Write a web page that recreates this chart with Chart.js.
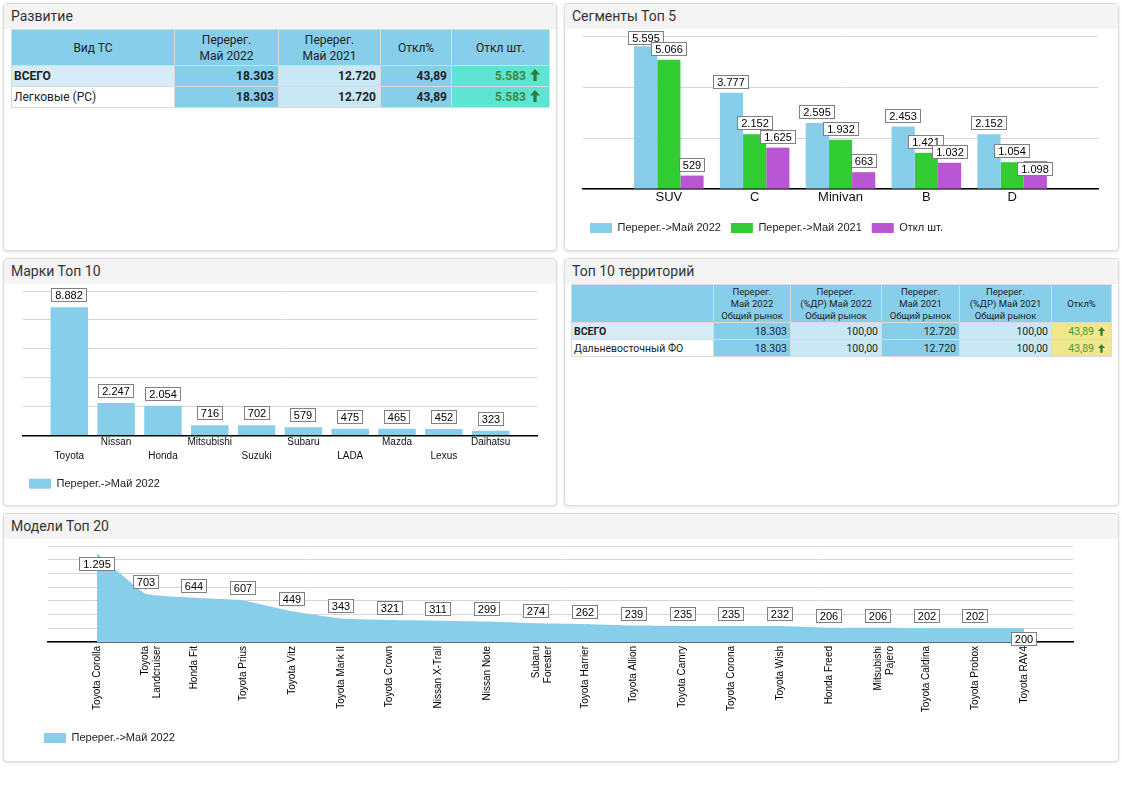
<!DOCTYPE html>
<html lang="ru">
<head>
<meta charset="utf-8">
<title>Dashboard</title>
<script src="https://cdn.jsdelivr.net/npm/chart.js@4.4.1/dist/chart.umd.min.js"></script>
<style>
  html,body{margin:0;padding:0;background:#fff;width:1122px;height:793px;overflow:hidden;}
  body{position:relative;font-family:Roboto,"Liberation Sans",Arial,sans-serif;color:#222;}
  .panel{position:absolute;box-sizing:border-box;border:1px solid #dcdcdc;border-radius:4px;background:#fff;box-shadow:0 1px 3px rgba(0,0,0,0.12);}
  .hdr{height:25px;background:#f4f4f4;border-radius:3px 3px 0 0;font:14px Roboto,sans-serif;color:#333;line-height:25px;padding-left:7px;}
  .abs{position:absolute;}
  table{border-collapse:collapse;table-layout:fixed;position:absolute;}
  td,th{border:1px solid #dadada;overflow:hidden;white-space:nowrap;}
  #t1 td,#t1 th{font-size:12px;}
  #t1 th{background:#87ceeb;font-weight:normal;color:#222;line-height:16px;height:35px;padding:0;}
  #t1 td{height:20px;padding:0 4px;text-align:right;font-weight:bold;color:#222;}
  #t2 th{background:#87ceeb;font-weight:normal;color:#222;font-size:9.5px;line-height:12px;height:37px;padding:0;}
  #t2 td{height:16px;padding:0 3px;text-align:right;font-size:10.5px;color:#222;}
  #t1 td.lbl,#t2 td.lbl{text-align:left;padding-left:2px;font-weight:normal;}
  #t1 td.lbl.b,#t2 td.lbl.b{font-weight:bold;}
  .c-sky{background:#87ceeb;}
  .c-light{background:#c9e8f5;}
  .c-lbl{background:#d6edf7;}
  .c-white{background:#fff;}
  #t1 td.c-turq{background:#5fe3d3;color:#3d8b3d;}
  #t2 td.c-khaki{background:#f0e68c;color:#4a9a3a;}
  svg.arr{vertical-align:-1px;margin-left:4px;}
</style>
</head>
<body>
<div class="panel" style="left:3px;top:3px;width:554px;height:248px"><div class="hdr">Развитие</div></div>
<div class="panel" style="left:564px;top:3px;width:555px;height:248px"><div class="hdr">Сегменты Топ 5</div></div>
<div class="panel" style="left:3px;top:258px;width:554px;height:248px"><div class="hdr">Марки Топ 10</div></div>
<div class="panel" style="left:564px;top:258px;width:555px;height:248px"><div class="hdr">Топ 10 территорий</div></div>
<div class="panel" style="left:3px;top:513px;width:1116px;height:249px"><div class="hdr">Модели Топ 20</div></div>

<table id="t1" style="left:11px;top:29px;width:538px"></table>
<table id="t2" style="left:571px;top:284px;width:540px"></table>

<div class="abs" style="left:565px;top:29px;width:553px;height:221px"><canvas id="cSeg" width="553" height="221"></canvas></div>
<div class="abs" style="left:4px;top:284px;width:553px;height:221px"><canvas id="cBrand" width="553" height="221"></canvas></div>
<div class="abs" style="left:4px;top:539px;width:1114px;height:222px"><canvas id="cModel" width="1114" height="222"></canvas></div>

<script>
// ---------------- DATA ----------------
// Развитие
const devHeaders = ['Вид ТС', 'Перерег.\nМай 2022', 'Перерег.\nМай 2021', 'Откл%', 'Откл шт.'];
const devRows = ['ВСЕГО', 'Легковые (PC)'];
const devMay2022 = [18303, 18303];
const devMay2021 = [12720, 12720];
const devPct = [43.89, 43.89];
const devDiff = [5583, 5583];

// Сегменты Топ 5
const segCategories = ['SUV', 'C', 'Minivan', 'B', 'D'];
const segMay2022 = [5595, 3777, 2595, 2453, 2152];
const segMay2021 = [5066, 2152, 1932, 1421, 1054];
const segDiff = [529, 1625, 663, 1032, 1098];
const segSeriesNames = ['Перерег.->Май 2022', 'Перерег.->Май 2021', 'Откл шт.'];

// Марки Топ 10
const brandCategories = ['Toyota', 'Nissan', 'Honda', 'Mitsubishi', 'Suzuki', 'Subaru', 'LADA', 'Mazda', 'Lexus', 'Daihatsu'];
const brandMay2022 = [8882, 2247, 2054, 716, 702, 579, 475, 465, 452, 323];

// Топ 10 территорий
const terHeaders = ['', 'Перерег.\nМай 2022\nОбщий рынок', 'Перерег.\n(%ДР) Май 2022\nОбщий рынок', 'Перерег.\nМай 2021\nОбщий рынок', 'Перерег.\n(%ДР) Май 2021\nОбщий рынок', 'Откл%'];
const terRows = ['ВСЕГО', 'Дальневосточный ФО'];
const terMay2022 = [18303, 18303];
const terShare2022 = [100, 100];
const terMay2021 = [12720, 12720];
const terShare2021 = [100, 100];
const terPct = [43.89, 43.89];

// Модели Топ 20
const modelCategories = ['Toyota Corolla', 'Toyota\nLandcruiser', 'Honda Fit', 'Toyota Prius', 'Toyota Vitz', 'Toyota Mark II', 'Toyota Crown', 'Nissan X-Trail', 'Nissan Note', 'Subaru\nForester', 'Toyota Harrier', 'Toyota Allion', 'Toyota Camry', 'Toyota Corona', 'Toyota Wish', 'Honda Freed', 'Mitsubishi\nPajero', 'Toyota Caldina', 'Toyota Probox', 'Toyota RAV4'];
const modelMay2022 = [1295, 703, 644, 607, 449, 343, 321, 311, 299, 274, 262, 239, 235, 235, 232, 206, 206, 202, 202, 200];

// ---------------- HELPERS ----------------
const fmtInt = v => String(v).replace(/\B(?=(\d{3})+(?!\d))/g, '.');
const fmtDec = v => v.toFixed(2).replace('.', ',');
const SKY = '#87ceeb', GREEN = '#32cd32', PURPLE = '#ba55d3';
function arrow(w, h) {
  return `<svg class="arr" width="${w}" height="${h}" viewBox="0 0 9 11"><polygon points="4.5,0 9,5 6,5 6,11 3,11 3,5 0,5" fill="#2f7d32"/></svg>`;
}
const esc = s => s.replace(/\n/g, '<br>');

// ---------------- TABLE 1 ----------------
(function () {
  const t = document.getElementById('t1');
  const widths = [163, 104, 102, 71, 98];
  let h = '<colgroup>' + widths.map(w => `<col style="width:${w}px">`).join('') + '</colgroup>';
  h += '<tr>' + devHeaders.map(x => `<th>${esc(x)}</th>`).join('') + '</tr>';
  devRows.forEach((r, i) => {
    h += '<tr>' +
      `<td class="lbl ${i === 0 ? 'b c-lbl' : 'c-white'}">${r}</td>` +
      `<td class="c-sky">${fmtInt(devMay2022[i])}</td>` +
      `<td class="c-light">${fmtInt(devMay2021[i])}</td>` +
      `<td class="c-sky">${fmtDec(devPct[i])}</td>` +
      `<td class="c-turq" style="padding-right:9px">${fmtInt(devDiff[i])}${arrow(10, 12)}</td>` +
      '</tr>';
  });
  t.innerHTML = h;
})();

// ---------------- TABLE 2 ----------------
(function () {
  const t = document.getElementById('t2');
  const widths = [142, 77, 91, 78, 92, 60];
  let h = '<colgroup>' + widths.map(w => `<col style="width:${w}px">`).join('') + '</colgroup>';
  h += '<tr>' + terHeaders.map(x => `<th>${esc(x)}</th>`).join('') + '</tr>';
  terRows.forEach((r, i) => {
    h += '<tr>' +
      `<td class="lbl ${i === 0 ? 'b c-lbl' : 'c-white'}">${r}</td>` +
      `<td class="c-sky">${fmtInt(terMay2022[i])}</td>` +
      `<td class="c-light">${fmtDec(terShare2022[i])}</td>` +
      `<td class="c-sky">${fmtInt(terMay2021[i])}</td>` +
      `<td class="c-light">${fmtDec(terShare2021[i])}</td>` +
      `<td class="c-khaki" style="padding-right:6px">${fmtDec(terPct[i])}${arrow(7, 9)}</td>` +
      '</tr>';
  });
  t.innerHTML = h;
})();

// ---------------- CHART PLUGIN: boxed value labels ----------------
const boxLabels = {
  id: 'boxLabels',
  afterDatasetsDraw(chart, args, opts) {
    if (!opts || !opts.enabled) return;
    const ctx = chart.ctx;
    ctx.save();
    ctx.font = opts.font || '11px "Liberation Sans", Arial';
    ctx.textAlign = 'center';
    ctx.textBaseline = 'middle';
    const h = opts.boxHeight || 14, padX = opts.padX || 4, gap = opts.gap || 4, below = opts.below || 3;
    const placed = [];
    const nDs = chart.data.datasets.length;
    const count = chart.data.datasets[0].data.length;
    for (let i = 0; i < count; i++) {
      for (let d = 0; d < nDs; d++) {
        const el = chart.getDatasetMeta(d).data[i];
        if (!el) continue;
        const raw = chart.data.datasets[d].data[i];
        const v = (raw && typeof raw === 'object') ? raw.y : raw;
        const txt = fmtInt(v);
        const w = Math.round(ctx.measureText(txt).width + padX * 2);
        const x0 = Math.round(el.x - w / 2);
        let y0 = el.y - gap - h;
        const ov = placed.some(p => Math.min(p.x1, x0 + w) - Math.max(p.x0, x0) > 4 && Math.min(p.y1, y0 + h) - Math.max(p.y0, y0) > 5);
        if (y0 < -2 || ov || (opts.flipLast && i === count - 1)) {
          y0 = el.y + below;
        } else {
          y0 = Math.max(y0, 2);
        }
        y0 = Math.round(y0);
        ctx.fillStyle = '#fff';
        ctx.fillRect(x0, y0, w, h);
        ctx.strokeStyle = '#808080';
        ctx.lineWidth = 1;
        ctx.strokeRect(x0 + 0.5, y0 + 0.5, w - 1, h - 1);
        ctx.fillStyle = '#000';
        ctx.fillText(txt, x0 + w / 2, y0 + h / 2 + 0.5);
        placed.push({ x0, x1: x0 + w, y0, y1: y0 + h });
      }
    }
    ctx.restore();
  }
};
Chart.register(boxLabels);
Chart.defaults.font.family = '"Liberation Sans", Arial, sans-serif';
Chart.defaults.color = '#222';
Chart.defaults.animation = false;
Chart.defaults.plugins.tooltip.enabled = false;

const legendOpts = {
  position: 'bottom', align: 'start',
  labels: { boxWidth: 22, boxHeight: 10, padding: 10, font: { size: 11 }, color: '#222' }
};
function yAxis(max, step, width) {
  return {
    min: 0, max: max,
    ticks: { stepSize: step, display: false },
    grid: { color: '#d6d6d6', drawTicks: false },
    border: { display: false },
    afterFit(s) { s.width = width; }
  };
}
function xAxis(min, max, labelFn, tickOpts, height) {
  return {
    type: 'linear', min: min, max: max, offset: false,
    ticks: Object.assign({ stepSize: 1, autoSkip: false, callback: labelFn }, tickOpts),
    grid: { display: false, drawTicks: false, offset: false },
    border: { display: true, color: '#000', width: 1.5 },
    afterFit(s) { s.height = height; }
  };
}
const toXY = arr => arr.map((v, i) => ({ x: i, y: v }));

// ---------------- SEGMENTS ----------------
new Chart(document.getElementById('cSeg'), {
  type: 'bar',
  data: {
    datasets: [
      { label: segSeriesNames[0], data: toXY(segMay2022), backgroundColor: SKY },
      { label: segSeriesNames[1], data: toXY(segMay2021), backgroundColor: GREEN },
      { label: segSeriesNames[2], data: toXY(segDiff), backgroundColor: PURPLE }
    ]
  },
  options: {
    responsive: false,
    datasets: { bar: { categoryPercentage: 0.81, barPercentage: 1, borderWidth: 0 } },
    layout: { padding: { left: 15, right: 20, top: 7, bottom: 6.5 } },
    scales: {
      x: xAxis(-1, segCategories.length, v => segCategories[v] ?? '', { font: { size: 13 }, color: '#111', padding: 1, maxRotation: 0 }, 23.4),
      y: yAxis(6000, 2000, 3)
    },
    plugins: {
      legend: legendOpts,
      boxLabels: { enabled: true, font: '11px "Liberation Sans", Arial', boxHeight: 14, padX: 4, gap: 4, below: 1 }
    }
  }
});

// ---------------- BRANDS ----------------
new Chart(document.getElementById('cBrand'), {
  type: 'bar',
  data: {
    datasets: [
      { label: 'Перерег.->Май 2022', data: toXY(brandMay2022), backgroundColor: SKY }
    ]
  },
  options: {
    responsive: false,
    datasets: { bar: { categoryPercentage: 0.8, barPercentage: 1, borderWidth: 0 } },
    layout: { padding: { left: 15, right: 19.5, top: 7, bottom: 5.7 } },
    scales: {
      x: xAxis(-1, brandCategories.length, (v) => {
        const n = brandCategories[v];
        if (n === undefined) return '';
        return v % 2 === 0 ? ['', n] : [n];
      }, { font: { size: 10, lineHeight: 1.4 }, color: '#111', padding: 0, maxRotation: 0 }, 32.8),
      y: yAxis(10000, 2000, 3.5)
    },
    plugins: {
      legend: legendOpts,
      boxLabels: { enabled: true, font: '11px "Liberation Sans", Arial', boxHeight: 14, padX: 4, gap: 5, below: 3 }
    }
  }
});

// ---------------- MODELS ----------------
new Chart(document.getElementById('cModel'), {
  type: 'line',
  data: {
    datasets: [
      { label: 'Перерег.->Май 2022', data: toXY(modelMay2022), backgroundColor: SKY, borderColor: SKY,
        borderWidth: 0, pointRadius: 0, fill: 'origin', tension: 0.1 }
    ]
  },
  options: {
    responsive: false,
    layout: { padding: { left: 30, right: 45, top: 7, bottom: 7.4 } },
    scales: {
      x: xAxis(-1, modelCategories.length, (v) => {
        const n = modelCategories[v];
        if (n === undefined) return '';
        return n.split('\n');
      }, { font: { size: 10 }, color: '#000', padding: 4, minRotation: 90, maxRotation: 90 }, 80.6),
      y: yAxis(1400, 200, 14)
    },
    plugins: {
      legend: legendOpts,
      boxLabels: { enabled: true, font: '11px "Liberation Sans", Arial', boxHeight: 14, padX: 4, gap: 5, below: 4, flipLast: true }
    }
  }
});
</script>
</body>
</html>
